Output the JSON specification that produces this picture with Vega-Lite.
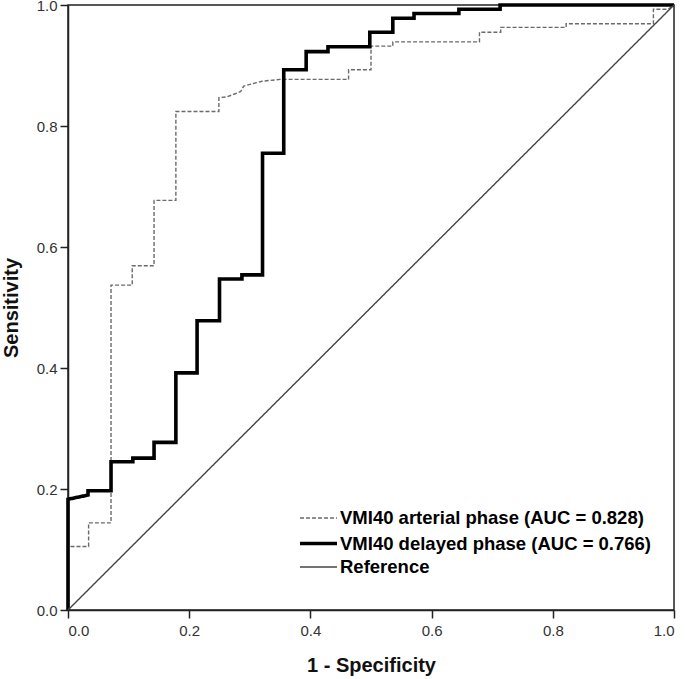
{
  "$schema": "https://vega.github.io/schema/vega-lite/v6.json",
  "autosize": "none",
  "width": 606,
  "height": 605,
  "padding": {"left": 68, "top": 5, "right": 11, "bottom": 69},
  "background": "white",
  "config": {
    "view": {"stroke": "#222", "strokeWidth": 1.5},
    "axis": {
      "grid": false,
      "domainColor": "#222",
      "domainWidth": 1.5,
      "tickColor": "#222",
      "tickWidth": 1.5,
      "tickSize": 8,
      "labelFont": "Liberation Sans",
      "labelFontSize": 15,
      "labelColor": "#333",
      "titleFont": "Liberation Sans",
      "titleFontSize": 20,
      "titleFontWeight": "bold",
      "titleColor": "#111"
    }
  },
  "data": {
    "values": [
      {"series": "VMI40 arterial phase (AUC = 0.828)", "o": 1, "x": 0, "y": 0},
      {"series": "VMI40 arterial phase (AUC = 0.828)", "o": 2, "x": 0, "y": 0.105},
      {"series": "VMI40 arterial phase (AUC = 0.828)", "o": 3, "x": 0.034, "y": 0.105},
      {"series": "VMI40 arterial phase (AUC = 0.828)", "o": 4, "x": 0.034, "y": 0.144},
      {"series": "VMI40 arterial phase (AUC = 0.828)", "o": 5, "x": 0.071, "y": 0.144},
      {"series": "VMI40 arterial phase (AUC = 0.828)", "o": 6, "x": 0.071, "y": 0.537},
      {"series": "VMI40 arterial phase (AUC = 0.828)", "o": 7, "x": 0.106, "y": 0.537},
      {"series": "VMI40 arterial phase (AUC = 0.828)", "o": 8, "x": 0.106, "y": 0.569},
      {"series": "VMI40 arterial phase (AUC = 0.828)", "o": 9, "x": 0.142, "y": 0.569},
      {"series": "VMI40 arterial phase (AUC = 0.828)", "o": 10, "x": 0.142, "y": 0.677},
      {"series": "VMI40 arterial phase (AUC = 0.828)", "o": 11, "x": 0.178, "y": 0.677},
      {"series": "VMI40 arterial phase (AUC = 0.828)", "o": 12, "x": 0.178, "y": 0.824},
      {"series": "VMI40 arterial phase (AUC = 0.828)", "o": 13, "x": 0.249, "y": 0.824},
      {"series": "VMI40 arterial phase (AUC = 0.828)", "o": 14, "x": 0.249, "y": 0.847},
      {"series": "VMI40 arterial phase (AUC = 0.828)", "o": 15, "x": 0.262, "y": 0.848},
      {"series": "VMI40 arterial phase (AUC = 0.828)", "o": 16, "x": 0.285, "y": 0.857},
      {"series": "VMI40 arterial phase (AUC = 0.828)", "o": 17, "x": 0.29, "y": 0.866},
      {"series": "VMI40 arterial phase (AUC = 0.828)", "o": 18, "x": 0.32, "y": 0.874},
      {"series": "VMI40 arterial phase (AUC = 0.828)", "o": 19, "x": 0.35, "y": 0.877},
      {"series": "VMI40 arterial phase (AUC = 0.828)", "o": 20, "x": 0.463, "y": 0.877},
      {"series": "VMI40 arterial phase (AUC = 0.828)", "o": 21, "x": 0.463, "y": 0.893},
      {"series": "VMI40 arterial phase (AUC = 0.828)", "o": 22, "x": 0.5, "y": 0.893},
      {"series": "VMI40 arterial phase (AUC = 0.828)", "o": 23, "x": 0.5, "y": 0.932},
      {"series": "VMI40 arterial phase (AUC = 0.828)", "o": 24, "x": 0.536, "y": 0.932},
      {"series": "VMI40 arterial phase (AUC = 0.828)", "o": 25, "x": 0.536, "y": 0.939},
      {"series": "VMI40 arterial phase (AUC = 0.828)", "o": 26, "x": 0.679, "y": 0.939},
      {"series": "VMI40 arterial phase (AUC = 0.828)", "o": 27, "x": 0.679, "y": 0.955},
      {"series": "VMI40 arterial phase (AUC = 0.828)", "o": 28, "x": 0.714, "y": 0.955},
      {"series": "VMI40 arterial phase (AUC = 0.828)", "o": 29, "x": 0.714, "y": 0.963},
      {"series": "VMI40 arterial phase (AUC = 0.828)", "o": 30, "x": 0.822, "y": 0.963},
      {"series": "VMI40 arterial phase (AUC = 0.828)", "o": 31, "x": 0.822, "y": 0.969},
      {"series": "VMI40 arterial phase (AUC = 0.828)", "o": 32, "x": 0.966, "y": 0.969},
      {"series": "VMI40 arterial phase (AUC = 0.828)", "o": 33, "x": 0.966, "y": 0.993},
      {"series": "VMI40 arterial phase (AUC = 0.828)", "o": 34, "x": 0.99, "y": 0.993},
      {"series": "VMI40 arterial phase (AUC = 0.828)", "o": 35, "x": 1, "y": 1},
      {"series": "VMI40 delayed phase (AUC = 0.766)", "o": 1, "x": 0, "y": 0},
      {"series": "VMI40 delayed phase (AUC = 0.766)", "o": 2, "x": 0, "y": 0.183},
      {"series": "VMI40 delayed phase (AUC = 0.766)", "o": 3, "x": 0.033, "y": 0.19},
      {"series": "VMI40 delayed phase (AUC = 0.766)", "o": 4, "x": 0.033, "y": 0.197},
      {"series": "VMI40 delayed phase (AUC = 0.766)", "o": 5, "x": 0.071, "y": 0.197},
      {"series": "VMI40 delayed phase (AUC = 0.766)", "o": 6, "x": 0.071, "y": 0.245},
      {"series": "VMI40 delayed phase (AUC = 0.766)", "o": 7, "x": 0.107, "y": 0.245},
      {"series": "VMI40 delayed phase (AUC = 0.766)", "o": 8, "x": 0.107, "y": 0.251},
      {"series": "VMI40 delayed phase (AUC = 0.766)", "o": 9, "x": 0.142, "y": 0.251},
      {"series": "VMI40 delayed phase (AUC = 0.766)", "o": 10, "x": 0.142, "y": 0.277},
      {"series": "VMI40 delayed phase (AUC = 0.766)", "o": 11, "x": 0.178, "y": 0.277},
      {"series": "VMI40 delayed phase (AUC = 0.766)", "o": 12, "x": 0.178, "y": 0.392},
      {"series": "VMI40 delayed phase (AUC = 0.766)", "o": 13, "x": 0.213, "y": 0.392},
      {"series": "VMI40 delayed phase (AUC = 0.766)", "o": 14, "x": 0.213, "y": 0.478},
      {"series": "VMI40 delayed phase (AUC = 0.766)", "o": 15, "x": 0.25, "y": 0.478},
      {"series": "VMI40 delayed phase (AUC = 0.766)", "o": 16, "x": 0.25, "y": 0.547},
      {"series": "VMI40 delayed phase (AUC = 0.766)", "o": 17, "x": 0.287, "y": 0.547},
      {"series": "VMI40 delayed phase (AUC = 0.766)", "o": 18, "x": 0.287, "y": 0.554},
      {"series": "VMI40 delayed phase (AUC = 0.766)", "o": 19, "x": 0.321, "y": 0.554},
      {"series": "VMI40 delayed phase (AUC = 0.766)", "o": 20, "x": 0.321, "y": 0.755},
      {"series": "VMI40 delayed phase (AUC = 0.766)", "o": 21, "x": 0.356, "y": 0.755},
      {"series": "VMI40 delayed phase (AUC = 0.766)", "o": 22, "x": 0.356, "y": 0.893},
      {"series": "VMI40 delayed phase (AUC = 0.766)", "o": 23, "x": 0.393, "y": 0.893},
      {"series": "VMI40 delayed phase (AUC = 0.766)", "o": 24, "x": 0.393, "y": 0.923},
      {"series": "VMI40 delayed phase (AUC = 0.766)", "o": 25, "x": 0.429, "y": 0.923},
      {"series": "VMI40 delayed phase (AUC = 0.766)", "o": 26, "x": 0.429, "y": 0.931},
      {"series": "VMI40 delayed phase (AUC = 0.766)", "o": 27, "x": 0.498, "y": 0.931},
      {"series": "VMI40 delayed phase (AUC = 0.766)", "o": 28, "x": 0.498, "y": 0.955},
      {"series": "VMI40 delayed phase (AUC = 0.766)", "o": 29, "x": 0.536, "y": 0.955},
      {"series": "VMI40 delayed phase (AUC = 0.766)", "o": 30, "x": 0.536, "y": 0.978},
      {"series": "VMI40 delayed phase (AUC = 0.766)", "o": 31, "x": 0.571, "y": 0.978},
      {"series": "VMI40 delayed phase (AUC = 0.766)", "o": 32, "x": 0.571, "y": 0.986},
      {"series": "VMI40 delayed phase (AUC = 0.766)", "o": 33, "x": 0.645, "y": 0.986},
      {"series": "VMI40 delayed phase (AUC = 0.766)", "o": 34, "x": 0.645, "y": 0.993},
      {"series": "VMI40 delayed phase (AUC = 0.766)", "o": 35, "x": 0.713, "y": 0.993},
      {"series": "VMI40 delayed phase (AUC = 0.766)", "o": 36, "x": 0.713, "y": 1},
      {"series": "VMI40 delayed phase (AUC = 0.766)", "o": 37, "x": 1, "y": 1},
      {"series": "Reference", "o": 1, "x": 0, "y": 0},
      {"series": "Reference", "o": 2, "x": 1, "y": 1}
    ]
  },
  "mark": {"type": "line", "clip": false},
  "encoding": {
    "x": {
      "field": "x", "type": "quantitative",
      "scale": {"domain": [0, 1], "nice": false, "zero": false},
      "axis": {"values": [0, 0.2, 0.4, 0.6, 0.8, 1], "format": ".1f", "title": "1 - Specificity", "labelPadding": 5, "titlePadding": 17}
    },
    "y": {
      "field": "y", "type": "quantitative",
      "scale": {"domain": [0, 1], "nice": false, "zero": false},
      "axis": {"values": [0, 0.2, 0.4, 0.6, 0.8, 1], "format": ".1f", "title": "Sensitivity", "labelPadding": 3, "titlePadding": 15}
    },
    "order": {"field": "o", "type": "quantitative"},
    "color": {
      "field": "series", "type": "nominal",
      "scale": {
        "domain": ["VMI40 arterial phase (AUC = 0.828)", "VMI40 delayed phase (AUC = 0.766)", "Reference"],
        "range": ["#6a6a6a", "#000000", "#444444"]
      },
      "legend": {
        "title": null,
        "orient": "none",
        "legendX": 239,
        "legendY": 503,
        "symbolType": "M-2,0H2",
        "symbolSize": 342,
        "labelFont": "Liberation Sans",
        "labelFontSize": 18.5,
        "labelFontWeight": "bold",
        "labelColor": "#000",
        "labelLimit": 500,
        "labelOffset": 10,
        "rowPadding": 4,
        "padding": 0
      }
    },
    "strokeDash": {
      "field": "series", "type": "nominal",
      "scale": {
        "domain": ["VMI40 arterial phase (AUC = 0.828)", "VMI40 delayed phase (AUC = 0.766)", "Reference"],
        "range": [[4, 2], [1, 0], [1, 0]]
      },
      "legend": null
    },
    "strokeWidth": {
      "field": "series", "type": "nominal",
      "scale": {
        "type": "ordinal",
        "domain": ["VMI40 arterial phase (AUC = 0.828)", "VMI40 delayed phase (AUC = 0.766)", "Reference"],
        "range": [1.4, 3.6, 1.4]
      },
      "legend": null
    }
  }
}
